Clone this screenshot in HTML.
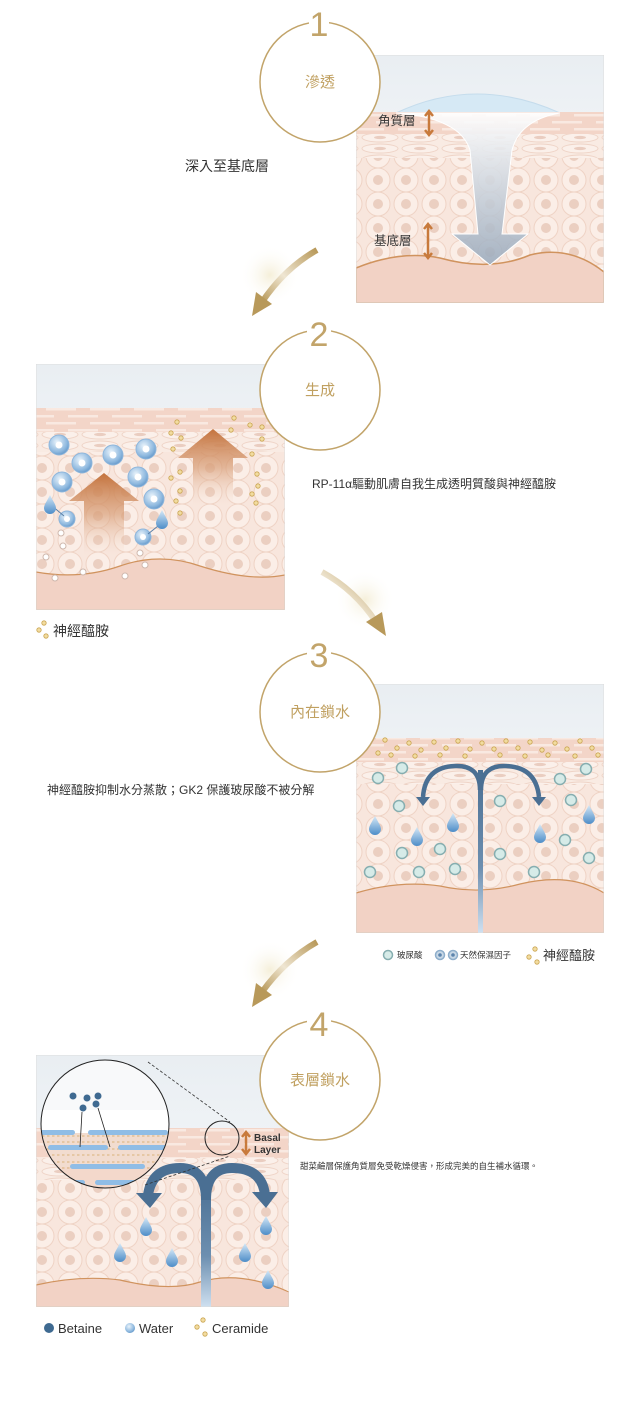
<!DOCTYPE html>
<html><head><meta charset="utf-8"><style>
html,body{margin:0;padding:0;background:#fff;width:640px;height:1419px;overflow:hidden}
svg{display:block}
text{font-family:"Liberation Sans","Noto Sans CJK TC",sans-serif}
</style></head><body>
<svg width="640" height="1419" viewBox="0 0 640 1419" xmlns="http://www.w3.org/2000/svg">
<defs>
<linearGradient id="sky" x1="0" y1="0" x2="0" y2="1"><stop offset="0" stop-color="#e9eef2"/><stop offset="1" stop-color="#fdfdfe"/></linearGradient>
<pattern id="cells" width="28" height="24" patternUnits="userSpaceOnUse"><rect width="28" height="24" fill="#f8e6dd"/><circle cx="14" cy="12" r="12" fill="#fbeee7" stroke="#efd3c5" stroke-width="1"/><circle cx="14" cy="12" r="5" fill="#ebcfc1"/></pattern>
<pattern id="corn" width="44" height="14" patternUnits="userSpaceOnUse"><rect width="44" height="14" fill="#f3d5c8"/><rect x="2" y="2" width="30" height="2.5" fill="#f9e9e1"/><rect x="24" y="9" width="30" height="2.5" fill="#f9e9e1"/><rect x="-20" y="9" width="30" height="2.5" fill="#f9e9e1"/></pattern>
<pattern id="flat" width="40" height="11" patternUnits="userSpaceOnUse"><rect width="40" height="11" fill="#f9ebe3"/><ellipse cx="20" cy="5.5" rx="18" ry="4.5" fill="#fbf0ea" stroke="#efd4c7"/><ellipse cx="20" cy="5.5" rx="6" ry="1.6" fill="#eacdc0"/></pattern>
<linearGradient id="funnel" x1="0" y1="0" x2="0" y2="1"><stop offset="0" stop-color="#ffffff" stop-opacity=".9"/><stop offset="1" stop-color="#97a8bb" stop-opacity=".85"/></linearGradient>
<linearGradient id="orng" x1="0" y1="0" x2="0" y2="1"><stop offset="0" stop-color="#c4733d"/><stop offset=".5" stop-color="#d9a07a" stop-opacity=".7"/><stop offset="1" stop-color="#f3d8c8" stop-opacity="0"/></linearGradient>
<linearGradient id="shaft" x1="0" y1="0" x2="0" y2="1"><stop offset="0" stop-color="#4a6f93"/><stop offset=".6" stop-color="#6d8fb0"/><stop offset="1" stop-color="#cfe0f0"/></linearGradient>
<radialGradient id="sph" cx=".4" cy=".35" r=".7"><stop offset="0" stop-color="#e9f3fb"/><stop offset=".7" stop-color="#8fb9df"/><stop offset="1" stop-color="#5f94c7"/></radialGradient>
<linearGradient id="drop" x1="0" y1="0" x2="0" y2="1"><stop offset="0" stop-color="#d6e9f7"/><stop offset="1" stop-color="#4d8dc8"/></linearGradient>
<linearGradient id="gold1" x1="1" y1="0" x2="0" y2="1"><stop offset="0" stop-color="#b8995a"/><stop offset=".55" stop-color="#efe6d2"/><stop offset="1" stop-color="#b8995a"/></linearGradient>
<radialGradient id="glow"><stop offset="0" stop-color="#f5efd9"/><stop offset="1" stop-color="#fff" stop-opacity="0"/></radialGradient>
<g id="tdrop"><path d="M0,-10 C3,-4 6,0 6,3 A6,6 0 0 1 -6,3 C-6,0 -3,-4 0,-10Z" fill="url(#drop)"/></g>
<g id="teal"><circle r="5.5" fill="#d6ebe8" stroke="#86aeb0" stroke-width="1.5"/></g>
<g id="gd"><circle r="2.2" fill="#f2dca0" stroke="#c9a451" stroke-width=".8"/></g>
<clipPath id="c1"><rect x="356" y="55" width="248" height="248"/></clipPath>
<clipPath id="c2"><rect x="36" y="364" width="249" height="246"/></clipPath>
<clipPath id="c3"><rect x="356" y="684" width="248" height="249"/></clipPath>
<clipPath id="c4"><rect x="36" y="1055" width="253" height="252"/></clipPath>
<clipPath id="mag"><circle cx="105" cy="1124" r="64"/></clipPath>
</defs>

<!-- PANEL 1 -->
<g clip-path="url(#c1)">
<rect x="356" y="55" width="248" height="248" fill="url(#sky)"/>
<path d="M396,113 Q476,75 560,113Z" fill="#d6e9f5" stroke="#c5dcec"/>
<rect x="356" y="112" width="248" height="22" fill="url(#corn)"/>
<rect x="356" y="134" width="248" height="24" fill="url(#flat)"/>
<rect x="356" y="158" width="248" height="110" fill="url(#cells)"/>
<path d="M356,268 Q400,250 440,258 Q490,272 530,255 Q570,245 604,272 L604,303 L356,303Z" fill="#f2d2c5" stroke="#d0935e" stroke-width="1.5"/>
<path d="M396,113 L560,113 Q520,120 512,150 L502,234 L528,234 L490,265 L452,234 L478,234 L470,150 Q460,118 396,113Z" fill="url(#funnel)" stroke="#fff" stroke-width="1"/>
<rect x="356" y="55" width="248" height="248" fill="none" stroke="#ddd"/>
</g>
<text x="378" y="125" font-size="12.5" fill="#333">角質層</text>
<path d="M429,112 L429,134 M425,116 L429,111 L433,116 M425,130 L429,135 L433,130" stroke="#c87a3c" stroke-width="2.5" fill="none"/>
<text x="374" y="245" font-size="12.5" fill="#333">基底層</text>
<path d="M428,225 L428,257 M424,229 L428,224 L432,229 M424,253 L428,258 L432,253" stroke="#c87a3c" stroke-width="2.5" fill="none"/>

<!-- PANEL 2 -->
<g clip-path="url(#c2)">
<rect x="36" y="364" width="249" height="246" fill="url(#sky)"/>
<rect x="36" y="408" width="249" height="24" fill="url(#corn)"/>
<rect x="36" y="432" width="249" height="20" fill="url(#flat)"/>
<rect x="36" y="452" width="249" height="130" fill="url(#cells)"/>
<path d="M36,572 Q80,580 120,566 Q160,552 200,566 Q250,582 285,575 L285,610 L36,610Z" fill="#f2d2c5" stroke="#d0935e" stroke-width="1.2"/>
<path d="M104,473 L139,501 L124,501 L124,556 L84,556 L84,501 L69,501Z" fill="url(#orng)"/>
<path d="M213,429 L248,458 L233,458 L233,506 L193,506 L193,458 L178,458Z" fill="url(#orng)"/>
<g fill="url(#sph)" stroke="#8eb6dc">
<circle cx="59" cy="445" r="10"/><circle cx="82" cy="463" r="10"/><circle cx="113" cy="455" r="10"/><circle cx="146" cy="449" r="10"/><circle cx="62" cy="482" r="10"/><circle cx="138" cy="477" r="10"/><circle cx="154" cy="499" r="10"/><circle cx="67" cy="519" r="8"/><circle cx="143" cy="537" r="8"/></g>
<g fill="#fff"><circle cx="59" cy="445" r="3.5"/><circle cx="82" cy="463" r="3.5"/><circle cx="113" cy="455" r="3.5"/><circle cx="146" cy="449" r="3.5"/><circle cx="62" cy="482" r="3.5"/><circle cx="138" cy="477" r="3.5"/><circle cx="154" cy="499" r="3.5"/><circle cx="67" cy="519" r="3"/><circle cx="143" cy="537" r="3"/></g>
<path d="M51,505 L64,516 M163,522 L148,534" stroke="#5a7fa6" stroke-width="1"/>
<use href="#tdrop" x="50" y="505"/><use href="#tdrop" x="162" y="520"/>
<g fill="#fff" stroke="#cfb8ad"><circle cx="61" cy="533" r="3"/><circle cx="63" cy="546" r="3"/><circle cx="46" cy="557" r="3"/><circle cx="140" cy="553" r="3"/><circle cx="145" cy="565" r="3"/><circle cx="83" cy="572" r="3"/><circle cx="125" cy="576" r="3"/><circle cx="55" cy="578" r="3"/></g>
<g><use href="#gd" x="177" y="422"/><use href="#gd" x="171" y="433"/><use href="#gd" x="181" y="438"/><use href="#gd" x="173" y="449"/><use href="#gd" x="171" y="478"/><use href="#gd" x="180" y="472"/><use href="#gd" x="180" y="491"/><use href="#gd" x="176" y="501"/><use href="#gd" x="180" y="513"/><use href="#gd" x="234" y="418"/><use href="#gd" x="231" y="430"/><use href="#gd" x="250" y="425"/><use href="#gd" x="262" y="427"/><use href="#gd" x="262" y="439"/><use href="#gd" x="252" y="454"/><use href="#gd" x="257" y="474"/><use href="#gd" x="258" y="486"/><use href="#gd" x="252" y="494"/><use href="#gd" x="256" y="503"/></g>
<rect x="36" y="364" width="249" height="246" fill="none" stroke="#ddd"/>
</g>

<!-- PANEL 3 -->
<g clip-path="url(#c3)">
<rect x="356" y="684" width="248" height="249" fill="url(#sky)"/>
<rect x="356" y="738" width="248" height="24" fill="url(#corn)"/>
<rect x="356" y="762" width="248" height="22" fill="url(#flat)"/>
<rect x="356" y="784" width="248" height="110" fill="url(#cells)"/>
<path d="M356,893 Q400,880 440,886 Q480,895 520,884 Q570,872 604,893 L604,933 L356,933Z" fill="#f2d2c5" stroke="#d0935e" stroke-width="1.2"/>
<g>
<use href="#gd" x="385" y="740"/><use href="#gd" x="397" y="748"/><use href="#gd" x="409" y="743"/><use href="#gd" x="421" y="750"/><use href="#gd" x="434" y="742"/><use href="#gd" x="446" y="748"/><use href="#gd" x="458" y="741"/><use href="#gd" x="470" y="749"/><use href="#gd" x="482" y="743"/><use href="#gd" x="494" y="749"/><use href="#gd" x="506" y="741"/><use href="#gd" x="518" y="748"/><use href="#gd" x="530" y="742"/><use href="#gd" x="542" y="750"/><use href="#gd" x="555" y="743"/><use href="#gd" x="567" y="749"/><use href="#gd" x="580" y="741"/><use href="#gd" x="592" y="748"/>
<use href="#gd" x="378" y="753"/><use href="#gd" x="391" y="755"/><use href="#gd" x="415" y="756"/><use href="#gd" x="440" y="755"/><use href="#gd" x="465" y="756"/><use href="#gd" x="500" y="755"/><use href="#gd" x="525" y="756"/><use href="#gd" x="548" y="755"/><use href="#gd" x="575" y="756"/><use href="#gd" x="598" y="755"/></g>
<use href="#teal" x="378" y="778"/><use href="#teal" x="402" y="768"/><use href="#teal" x="399" y="806"/><use href="#teal" x="586" y="769"/><use href="#teal" x="560" y="779"/><use href="#teal" x="571" y="800"/><use href="#teal" x="500" y="801"/><use href="#teal" x="402" y="853"/><use href="#teal" x="440" y="849"/><use href="#teal" x="370" y="872"/><use href="#teal" x="419" y="872"/><use href="#teal" x="455" y="869"/><use href="#teal" x="500" y="854"/><use href="#teal" x="534" y="872"/><use href="#teal" x="565" y="840"/><use href="#teal" x="589" y="858"/>
<use href="#tdrop" x="375" y="826"/><use href="#tdrop" x="417" y="837"/><use href="#tdrop" x="453" y="823"/><use href="#tdrop" x="540" y="834"/><use href="#tdrop" x="589" y="815"/>
<rect x="478" y="770" width="5" height="163" fill="url(#shaft)"/>
<path d="M480,790 Q480,765 455,766 Q425,767 423,797 M481,790 Q481,765 506,766 Q536,767 539,797" stroke="#4a6f93" stroke-width="4.5" fill="none"/>
<path d="M416,797 L430,797 L423,806Z M532,797 L546,797 L539,806Z" fill="#4a6f93"/>
<rect x="356" y="684" width="248" height="249" fill="none" stroke="#ddd"/>
</g>
<g font-size="8.5" fill="#333">
<circle cx="388" cy="955" r="4.5" fill="#d6ebe8" stroke="#86aeb0" stroke-width="1.5"/><text x="397" y="958">玻尿酸</text>
<circle cx="440" cy="955" r="4.5" fill="#c8d8e6" stroke="#8eaecb" stroke-width="1.5"/><circle cx="440" cy="955" r="1.8" fill="#5c84ad"/>
<circle cx="453" cy="955" r="4.5" fill="#c8d8e6" stroke="#8eaecb" stroke-width="1.5"/><circle cx="453" cy="955" r="1.8" fill="#5c84ad"/>
<text x="460" y="958">天然保濕因子</text></g>
<use href="#gd" x="529" y="957"/><use href="#gd" x="535" y="949"/><use href="#gd" x="537" y="962"/>
<text x="543" y="960" font-size="13" fill="#333">神經醯胺</text>

<!-- PANEL 4 -->
<g clip-path="url(#c4)">
<rect x="36" y="1055" width="253" height="252" fill="url(#sky)"/>
<rect x="36" y="1128" width="253" height="30" fill="url(#corn)"/>
<rect x="36" y="1158" width="253" height="22" fill="url(#flat)"/>
<rect x="36" y="1180" width="253" height="110" fill="url(#cells)"/>
<path d="M36,1285 Q80,1275 120,1280 Q170,1292 200,1282 Q240,1270 289,1292 L289,1307 L36,1307Z" fill="#f2d2c5" stroke="#d0935e" stroke-width="1.2"/>
<use href="#tdrop" x="146" y="1227"/><use href="#tdrop" x="120" y="1253"/><use href="#tdrop" x="172" y="1258"/><use href="#tdrop" x="266" y="1226"/><use href="#tdrop" x="245" y="1253"/><use href="#tdrop" x="268" y="1280"/>
<rect x="201" y="1180" width="10" height="127" fill="url(#shaft)"/>
<path d="M206,1200 Q206,1168 180,1168 Q152,1168 148,1195 M206,1200 Q206,1168 232,1168 Q262,1168 265,1195" stroke="#4a6f93" stroke-width="10" fill="none"/>
<path d="M136,1193 L162,1193 L150,1208Z M252,1192 L278,1192 L266,1208Z" fill="#4a6f93"/>
<path d="M148,1062 L230,1122 M145,1185 L230,1156" stroke="#333" stroke-width=".8" stroke-dasharray="3,2" fill="none"/>
<circle cx="222" cy="1138" r="17" fill="none" stroke="#222" stroke-width="1"/>
<circle cx="105" cy="1124" r="64" fill="#fff"/>
<g clip-path="url(#mag)">
<rect x="40" y="1060" width="130" height="50" fill="#f8f9fa"/>
<rect x="40" y="1150" width="130" height="40" fill="#f3d8cb"/>
<rect x="40" y="1133" width="130" height="34" fill="#f2dccf"/>
<g fill="none" stroke="#d2a45e" stroke-width=".8">
<path d="M42,1136 H170 M42,1142 H170 M42,1149 H170 M42,1155 H170 M42,1162 H170 M42,1168 H170" stroke-dasharray="2.5,2.5"/></g>
<g fill="#90bde6"><rect x="40" y="1130" width="35" height="5" rx="2.5"/><rect x="88" y="1130" width="80" height="5" rx="2.5"/><rect x="48" y="1145" width="60" height="5" rx="2.5"/><rect x="118" y="1145" width="50" height="5" rx="2.5"/><rect x="70" y="1164" width="75" height="5" rx="2.5"/><rect x="40" y="1180" width="45" height="5" rx="2.5"/><rect x="95" y="1180" width="60" height="5" rx="2.5"/></g>
<g fill="#3f6a91"><circle cx="73" cy="1096" r="3.5"/><circle cx="87" cy="1098" r="3.5"/><circle cx="98" cy="1096" r="3.5"/><circle cx="83" cy="1108" r="3.5"/><circle cx="96" cy="1104" r="3.5"/></g>
<path d="M82,1112 L80,1147 M98,1108 L110,1147" stroke="#222" stroke-width=".8"/>
</g>
<circle cx="105" cy="1124" r="64" fill="none" stroke="#222" stroke-width="1"/>
<rect x="36" y="1055" width="253" height="252" fill="none" stroke="#ddd"/>
</g>
<path d="M246,1133 L246,1153 M242,1137 L246,1132 L250,1137 M242,1149 L246,1154 L250,1149" stroke="#c87a3c" stroke-width="2.5" fill="none"/>
<text x="254" y="1141" font-size="10" font-weight="bold" fill="#333">Basal</text>
<text x="254" y="1153" font-size="10" font-weight="bold" fill="#333">Layer</text>
<circle cx="49" cy="1328" r="5" fill="#3f6a91"/><text x="58" y="1333" font-size="13" fill="#333">Betaine</text>
<circle cx="130" cy="1328" r="5" fill="url(#sph)"/><text x="139" y="1333" font-size="13" fill="#333">Water</text>
<use href="#gd" x="197" y="1327"/><use href="#gd" x="203" y="1320"/><use href="#gd" x="205" y="1334"/>
<text x="212" y="1333" font-size="13" fill="#333">Ceramide</text>

<!-- TEXTS -->
<text x="185" y="171" font-size="14" fill="#333">深入至基底層</text>
<text x="312" y="488" font-size="12" fill="#333">RP-11α驅動肌膚自我生成透明質酸與神經醯胺</text>
<use href="#gd" x="39" y="630"/><use href="#gd" x="44" y="623"/><use href="#gd" x="46" y="636"/>
<text x="53" y="636" font-size="14" fill="#333">神經醯胺</text>
<text x="47" y="794" font-size="12" fill="#333">神經醯胺抑制水分蒸散；GK2 保護玻尿酸不被分解</text>
<text x="300" y="1169" font-size="8.5" fill="#333">甜菜鹼層保護角質層免受乾燥侵害，形成完美的自生補水循環。</text>

<!-- CIRCLES -->
<g fill="#fff" stroke="#c2a46a" stroke-width="1.5">
<circle cx="320" cy="82" r="60"/><circle cx="320" cy="390" r="60"/><circle cx="320" cy="712" r="60"/><circle cx="320" cy="1080" r="60"/></g>
<g font-family="Liberation Serif,serif" font-size="34" fill="#c2a46a" text-anchor="middle">
<rect x="309" y="14" width="20" height="12" fill="#fff"/><text x="319" y="36">1</text>
<rect x="307" y="322" width="24" height="12" fill="#fff"/><text x="319" y="346">2</text>
<rect x="307" y="644" width="24" height="12" fill="#fff"/><text x="319" y="667">3</text>
<rect x="307" y="1012" width="24" height="12" fill="#fff"/><text x="319" y="1036">4</text></g>
<g font-size="15" fill="#c0a060" text-anchor="middle">
<text x="320" y="87">滲透</text><text x="320" y="395">生成</text><text x="320" y="717">內在鎖水</text><text x="320" y="1085">表層鎖水</text></g>

<!-- GOLD ARROWS -->
<circle cx="270" cy="275" r="30" fill="url(#glow)"/>
<path d="M317,250 Q285,268 262,302" stroke="url(#gold1)" stroke-width="6" fill="none"/>
<path d="M252,316 L256,292 L272,304Z" fill="#b8995a"/>
<circle cx="365" cy="600" r="30" fill="url(#glow)"/>
<path d="M322,572 Q355,590 376,622" stroke="url(#gold1)" stroke-width="6" fill="none"/>
<path d="M386,636 L366,622 L382,612Z" fill="#b8995a"/>
<circle cx="270" cy="970" r="30" fill="url(#glow)"/>
<path d="M317,942 Q285,960 262,992" stroke="url(#gold1)" stroke-width="6" fill="none"/>
<path d="M252,1007 L256,983 L272,995Z" fill="#b8995a"/>
</svg>
</body></html>
